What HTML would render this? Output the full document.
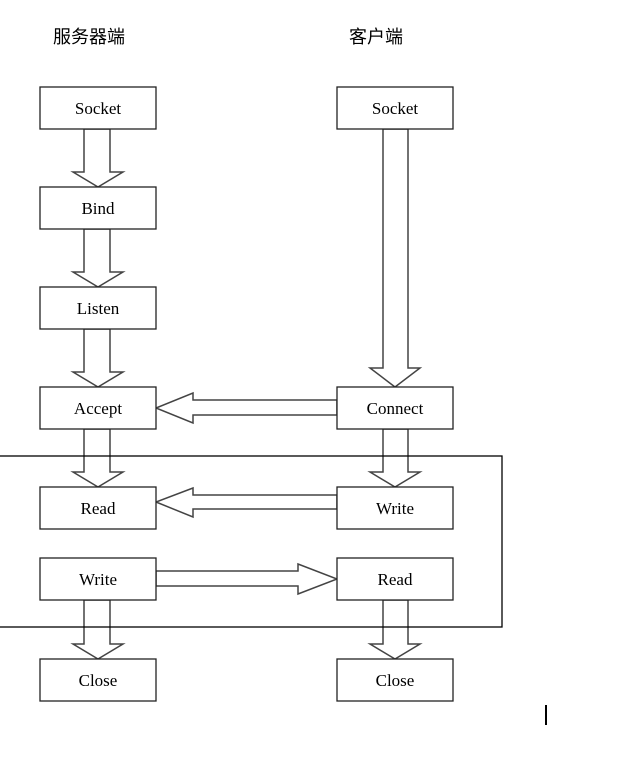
<!DOCTYPE html>
<html><head><style>body{margin:0;background:#fff}</style></head><body>
<svg width="626" height="758" xmlns="http://www.w3.org/2000/svg" style="display:block">
<g font-family="Liberation Sans, Noto Sans CJK SC, sans-serif" font-size="18" fill="#000">
<text x="53" y="43">服务器端</text><text x="349" y="43">客户端</text></g>
<g fill="#fff" stroke="#444" stroke-width="1.5">
<path d="M84 129V172H73L98 187L123 172H110V129Z"/>
<path d="M84 229V272H73L98 287L123 272H110V229Z"/>
<path d="M84 329V372H73L98 387L123 372H110V329Z"/>
<path d="M84 429V472H73L98 487L123 472H110V429Z"/>
<path d="M84 600V644H73L98 659L123 644H110V600Z"/>
<path d="M383 129V368H370L395 387L420 368H408V129Z"/>
<path d="M383 429V472H370L395 487L420 472H408V429Z"/>
<path d="M383 600V644H370L395 659L420 644H408V600Z"/>
<path d="M337 400H193V393L156 408L193 423V415H337Z"/>
<path d="M337 495H193V488L156 502L193 517V509H337Z"/>
<path d="M156 571H298V564L337 579L298 594V586H156Z"/>
</g>
<rect x="-2" y="456" width="504" height="171" fill="none" stroke="#000" stroke-width="1.3"/>
<g fill="#fff" stroke="#222" stroke-width="1.3">
<rect x="40" y="87" width="116" height="42"/><rect x="40" y="187" width="116" height="42"/>
<rect x="40" y="287" width="116" height="42"/><rect x="40" y="387" width="116" height="42"/>
<rect x="40" y="487" width="116" height="42"/><rect x="40" y="558" width="116" height="42"/>
<rect x="40" y="659" width="116" height="42"/>
<rect x="337" y="87" width="116" height="42"/><rect x="337" y="387" width="116" height="42"/>
<rect x="337" y="487" width="116" height="42"/><rect x="337" y="558" width="116" height="42"/>
<rect x="337" y="659" width="116" height="42"/>
</g>
<g font-family="Liberation Serif, serif" font-size="17" text-anchor="middle" fill="#000">
<text x="98" y="114">Socket</text><text x="98" y="214">Bind</text><text x="98" y="314">Listen</text>
<text x="98" y="414">Accept</text><text x="98" y="514">Read</text><text x="98" y="585">Write</text>
<text x="98" y="686">Close</text>
<text x="395" y="114">Socket</text><text x="395" y="414">Connect</text><text x="395" y="514">Write</text>
<text x="395" y="585">Read</text><text x="395" y="686">Close</text>
</g>
<rect x="545" y="705" width="2" height="20" fill="#000"/>
</svg>
</body></html>
